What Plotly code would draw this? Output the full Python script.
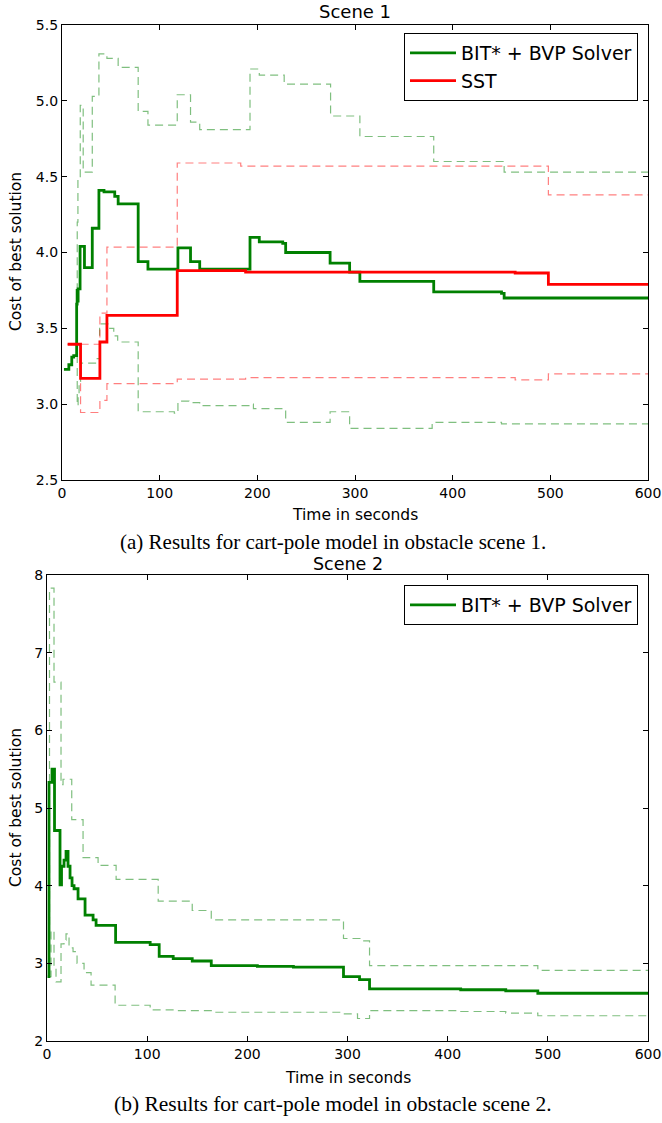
import plotly.graph_objects as go

W, H = 662, 1123

# ---------------- Scene 1 ----------------
# BIT* + BVP Solver: mean cost and spread band (time in s, cost)
s1_bit_t = [2, 7, 10, 12, 15, 15.5, 16, 16.5, 18.5, 23, 31, 37.8, 43, 54, 57.5, 78, 88,
            118.7, 131.6, 141, 192.5, 202, 226, 229, 274.5, 294.5, 305, 380.6, 450, 452.7, 600]
s1_bit_mean = [3.23, 3.26, 3.31, 3.32, 3.66, 3.75, 3.68, 3.76, 4.04, 3.90, 4.16, 4.41, 4.40,
               4.37, 4.32, 3.94, 3.89, 4.03, 3.94, 3.89, 4.10, 4.07, 4.06, 4.00, 3.93, 3.87,
               3.81, 3.74, 3.73, 3.70, 3.70]

s1_bit_hi_t = [15, 15.6, 16.3, 18.7, 21.7, 31, 37.8, 46, 57.5, 78, 88, 118, 131.6, 141,
               192.5, 202, 227.5, 275, 305, 380.6, 452.7, 600]
s1_bit_hi = [3.32, 4.20, 4.50, 4.97, 4.53, 5.03, 5.31, 5.28, 5.22, 4.93, 4.84, 5.04, 4.86,
             4.81, 5.21, 5.17, 5.11, 4.90, 4.765, 4.60, 4.53, 4.53]

s1_bit_lo_t = [15, 15.6, 16.5, 17.5, 19, 35, 38.5, 47, 53, 57, 78, 115, 118.7, 130, 141,
               192.5, 196, 229, 274.5, 294.5, 379, 450, 600]
s1_bit_lo = [3.32, 2.99, 3.05, 3.15, 3.27, 3.30, 3.53, 3.50, 3.45, 3.41, 2.95, 2.94, 3.02,
             3.01, 2.99, 3.00, 2.97, 2.88, 2.95, 2.84, 2.88, 2.87, 2.87]

# SST: mean cost and spread band
s1_sst_t = [5.8, 19, 38.8, 46, 118, 188, 464, 498, 600]
s1_sst_mean = [3.395, 3.17, 3.41, 3.585, 3.88, 3.87, 3.865, 3.79, 3.79]

s1_sst_hi_t = [5.8, 38.8, 46, 118, 183, 498, 600]
s1_sst_hi = [3.395, 3.60, 4.035, 4.59, 4.57, 4.38, 4.38]

s1_sst_lo_t = [5.8, 19, 38.8, 46, 118, 188, 464, 498, 600]
s1_sst_lo = [3.395, 2.945, 3.025, 3.135, 3.165, 3.175, 3.16, 3.20, 3.20]

# ---------------- Scene 2 ----------------
s2_bit_t = [0.5, 2, 5, 7.5, 13, 14.5, 17, 19, 21, 23, 25, 27, 31, 38, 46, 49, 68.5, 103,
            112, 126, 145, 164, 210, 246, 296, 312, 322, 413, 458, 490, 600]
s2_bit_mean = [2.83, 5.33, 5.50, 4.71, 4.01, 4.25, 4.33, 4.44, 4.25, 4.10, 4.00, 3.96, 3.83,
               3.62, 3.56, 3.49, 3.27, 3.24, 3.09, 3.06, 3.03, 2.97, 2.96, 2.95, 2.83, 2.79,
               2.67, 2.66, 2.645, 2.615, 2.615]

s2_bit_hi_t = [2, 2.5, 7, 14, 16, 24.7, 36, 51, 69, 111, 145, 164, 296, 315, 322, 490, 600]
s2_bit_hi = [2.83, 7.83, 6.62, 5.30, 5.37, 4.85, 4.36, 4.26, 4.08, 3.80, 3.68, 3.56, 3.32,
             3.29, 2.97, 2.91, 2.91]

s2_bit_lo_t = [2, 4, 7, 9, 14, 17, 19, 22, 26, 30, 37, 44, 68, 103, 130, 165, 296, 310, 322,
               413, 458, 490, 600]
s2_bit_lo = [2.83, 3.42, 2.95, 2.76, 3.25, 3.30, 3.38, 3.20, 3.15, 3.00, 2.88, 2.72, 2.46,
             2.40, 2.39, 2.37, 2.35, 2.29, 2.39, 2.38, 2.36, 2.325, 2.325]

x_ticks = [0, 100, 200, 300, 400, 500, 600]
s1_y_ticks = [2.5, 3.0, 3.5, 4.0, 4.5, 5.0, 5.5]
s2_y_ticks = [2, 3, 4, 5, 6, 7, 8]

GREEN = "#008000"
RED = "#ff0000"
GREEN_BAND = "rgba(0,128,0,0.5)"
RED_BAND = "rgba(255,0,0,0.5)"
DASH = "8px,5px"
SANS = "DejaVu Sans"
SERIF = "Liberation Serif"


def px(x):
    return x / W


def py(y):
    return 1 - y / H


fig = go.Figure()


def band(t, v, color, xa, ya):
    fig.add_trace(go.Scatter(x=t, y=v, mode="lines", line_shape="hv",
                             line=dict(color=color, width=1.2, dash=DASH),
                             showlegend=False, hoverinfo="skip", xaxis=xa, yaxis=ya))


def mean(t, v, color, name, xa, ya, legend):
    fig.add_trace(go.Scatter(x=t, y=v, mode="lines", line_shape="hv", name=name,
                             line=dict(color=color, width=2.8),
                             legend=legend, xaxis=xa, yaxis=ya))


# Scene 1 traces
band(s1_bit_hi_t, s1_bit_hi, GREEN_BAND, "x", "y")
band(s1_bit_lo_t, s1_bit_lo, GREEN_BAND, "x", "y")
band(s1_sst_hi_t, s1_sst_hi, RED_BAND, "x", "y")
band(s1_sst_lo_t, s1_sst_lo, RED_BAND, "x", "y")
mean(s1_bit_t, s1_bit_mean, GREEN, "BIT* + BVP Solver", "x", "y", "legend")
mean(s1_sst_t, s1_sst_mean, RED, "SST", "x", "y", "legend")

# Scene 2 traces
band(s2_bit_hi_t, s2_bit_hi, GREEN_BAND, "x2", "y2")
band(s2_bit_lo_t, s2_bit_lo, GREEN_BAND, "x2", "y2")
mean(s2_bit_t, s2_bit_mean, GREEN, "BIT* + BVP Solver", "x2", "y2", "legend2")

axis_common = dict(showgrid=False, zeroline=False, showline=True, linecolor="black",
                   linewidth=1.3, mirror="allticks", ticks="inside", ticklen=5,
                   tickcolor="black", tickwidth=1, automargin=False,
                   tickfont=dict(family=SANS, size=14, color="black"))

legend_common = dict(bgcolor="white", bordercolor="black", borderwidth=1,
                     font=dict(family=SANS, size=19, color="black"),
                     xanchor="right", yanchor="top", tracegroupgap=0, itemwidth=46)

fig.update_layout(
    width=W, height=H, autosize=False,
    margin=dict(l=0, r=0, t=0, b=0, autoexpand=False),
    paper_bgcolor="white", plot_bgcolor="white",
    xaxis=dict(domain=[px(62), px(648)], range=[0, 600], tickvals=x_ticks,
               anchor="y", **axis_common),
    yaxis=dict(domain=[py(480), py(25)], range=[2.5, 5.5], tickvals=s1_y_ticks,
               tickformat=".1f", anchor="x", **axis_common),
    xaxis2=dict(domain=[px(47), px(648)], range=[0, 600], tickvals=x_ticks,
                anchor="y2", **axis_common),
    yaxis2=dict(domain=[py(1041), py(575)], range=[2, 8], tickvals=s2_y_ticks,
                anchor="x2", **axis_common),
    legend=dict(x=px(638), y=py(33), **legend_common),
    legend2=dict(x=px(638), y=py(585), **legend_common),
)

texts = [
    ("Scene 1", 355, 12, SANS, 18, 0),
    ("Time in seconds", 355, 515, SANS, 15.5, 0),
    ("Cost of best solution", 16, 252, SANS, 15.5, -90),
    ("(a) Results for cart-pole model in obstacle scene 1.", 333, 542, SERIF, 21, 0),
    ("Scene 2", 348, 564, SANS, 17.5, 0),
    ("Time in seconds", 348, 1078, SANS, 15.5, 0),
    ("Cost of best solution", 16, 808, SANS, 15.5, -90),
    ("(b) Results for cart-pole model in obstacle scene 2.", 333, 1104, SERIF, 21.5, 0),
]
for txt, x, y, fam, size, ang in texts:
    fig.add_annotation(text=txt, x=px(x), y=py(y), xref="paper", yref="paper",
                       xanchor="center", yanchor="middle", showarrow=False,
                       textangle=ang, font=dict(family=fam, size=size, color="black"))

fig.write_html("out.html")
